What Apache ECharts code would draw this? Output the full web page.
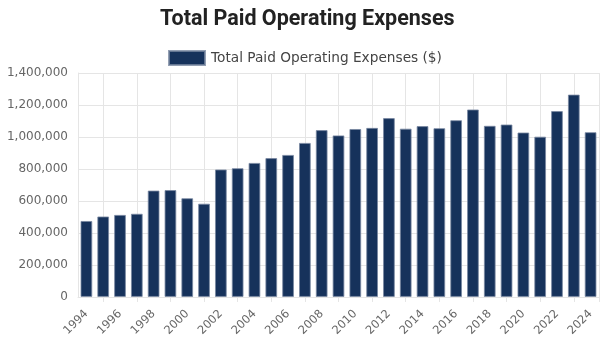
<!DOCTYPE html>
<html>
<head>
<meta charset="utf-8">
<script src="https://cdn.jsdelivr.net/npm/echarts@6/dist/echarts.min.js"></script>
<style>
  html, body { margin: 0; padding: 0; background: #ffffff; }
  #chart { width: 600px; height: 339px; }
</style>
</head>
<body>
<div id="chart"></div>
<script>
// Fiscal years shown on the category axis
const years = ['1994','1995','1996','1997','1998','1999','2000','2001','2002','2003',
  '2004','2005','2006','2007','2008','2009','2010','2011','2012','2013','2014',
  '2015','2016','2017','2018','2019','2020','2021','2022','2023','2024'];

// Total paid operating expenses per year, in dollars
const expenses = [475000, 503000, 513000, 520000, 665000, 668000, 617000, 583000, 797000, 805000,
  838000, 868000, 888000, 963000, 1043000, 1010000, 1050000, 1057000, 1118000, 1052000, 1068000,
  1055000, 1105000, 1172000, 1070000, 1078000, 1028000, 1002000, 1162000, 1265000, 1030000];

const seriesName = 'Total Paid Operating Expenses ($)';
const chartTitle = 'Total Paid Operating Expenses';

// Half-year slots used only to place the vertical grid lines between shown labels
const halfSlots = [];
for (let i = 0; i < years.length * 2; i++) halfSlots.push('s' + i);

const gridColor = '#e5e5e5';
const labelColor = '#666666';

const chart = echarts.init(document.getElementById('chart'), null, { renderer: 'canvas' });

chart.setOption({
  animation: false,
  backgroundColor: '#ffffff',
  title: {
    text: chartTitle,
    left: 155,
    top: 4,
    textStyle: {
      fontFamily: 'Roboto',
      fontWeight: 'bold',
      fontSize: 21.5,
      color: '#222222'
    }
  },
  legend: {
    top: 45,
    left: 163,
    icon: 'rect',
    itemWidth: 36,
    itemHeight: 14,
    itemGap: 10,
    textStyle: {
      fontFamily: 'DejaVu Sans',
      fontSize: 13.7,
      color: '#444444',
      padding: [0, 0, 0, 1]
    },
    data: [seriesName]
  },
  grid: {
    left: 78,
    right: 1,
    top: 73,
    bottom: 42,
    containLabel: false
  },
  xAxis: [
    {
      type: 'category',
      data: years,
      boundaryGap: true,
      axisLine: { show: true, lineStyle: { color: gridColor } },
      axisTick: { show: false },
      splitLine: { show: false },
      axisLabel: {
        interval: 1,
        rotate: 45,
        margin: 15,
        fontFamily: 'DejaVu Sans',
        fontSize: 11.5,
        color: labelColor
      }
    },
    {
      type: 'category',
      data: halfSlots,
      position: 'bottom',
      boundaryGap: true,
      axisLine: { show: false },
      axisLabel: { show: false },
      axisTick: {
        show: true,
        length: 5,
        interval: function (index) { return index % 4 === 3; },
        lineStyle: { color: gridColor }
      },
      splitLine: {
        show: true,
        interval: function (index) { return index % 4 === 3; },
        lineStyle: { color: gridColor, width: 1 }
      }
    }
  ],
  yAxis: {
    type: 'value',
    min: 0,
    max: 1400000,
    interval: 200000,
    axisLine: { show: true, lineStyle: { color: gridColor } },
    axisTick: { show: false },
    splitLine: { show: true, lineStyle: { color: gridColor, width: 1 } },
    axisLabel: {
      margin: 10,
      fontFamily: 'DejaVu Sans',
      fontSize: 12,
      color: labelColor,
      formatter: function (v) { return v.toLocaleString('en-US'); }
    }
  },
  series: [
    {
      name: seriesName,
      type: 'bar',
      xAxisIndex: 0,
      data: expenses,
      barCategoryGap: '30%',
      itemStyle: {
        color: '#16325b',
        borderColor: 'rgba(120,135,160,0.8)',
        borderWidth: 1
      }
    }
  ]
});
</script>
</body>
</html>
